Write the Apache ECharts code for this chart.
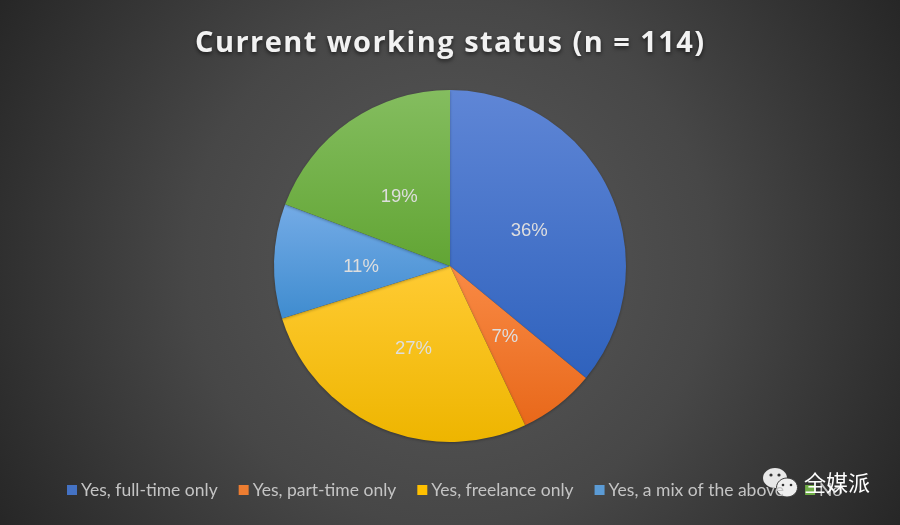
<!DOCTYPE html>
<html><head><meta charset="utf-8">
<style>html,body{margin:0;padding:0;background:#333}#c{width:900px;height:525px}</style>
<script src="https://cdn.jsdelivr.net/npm/echarts@6/dist/echarts.min.js"></script>
</head><body><div id="c"></div>
<script>
const titleText = 'Current working status (n = 114)';
const categories = ['Yes, full-time only','Yes, part-time only','Yes, freelance only','Yes, a mix of the above','No'];
const counts = [41,8,31,12,22];
const topColors = ['#5f86d6','#f98a45','#ffcb33','#74abe6','#84bd5f'];
const bottomColors = ['#2f62bd','#e8681a','#eeb500','#3f8ccf','#62a534'];
const legendColors = ['#4472c4','#ed7d31','#ffc000','#5b9bd5','#70ad47'];
const watermark = '全媒派';
// spaced-out title lettering, as in the reference
const nativeFillText = CanvasRenderingContext2D.prototype.fillText;
CanvasRenderingContext2D.prototype.fillText = function(t,x,y,m){
  this.letterSpacing = t===titleText ? '1.45px' : '0px';
  return m===undefined ? nativeFillText.call(this,t,x,y) : nativeFillText.call(this,t,x,y,m);
};
const chart = echarts.init(document.getElementById('c'),null,{renderer:'canvas'});
const grad=(a,b)=>new echarts.graphic.LinearGradient(0,0,0,1,[{offset:0,color:a},{offset:1,color:b}]);
const nudge=[[-3,4],[-1,-1],[0,0],[2,3],[1,6]];
chart.setOption({
  animation:false,
  backgroundColor:new echarts.graphic.RadialGradient(0.5,0.5,1.0,[{offset:0,color:'#5a5a5a'},{offset:0.5,color:'#474747'},{offset:1,color:'#262626'}]),
  title:{text:titleText,left:190,top:24,textStyle:{color:'#f2f2f2',fontFamily:'Open Sans',fontWeight:'bold',fontSize:29,textShadowColor:'rgba(0,0,0,0.6)',textShadowBlur:4,textShadowOffsetY:2}},
  legend:{bottom:21,left:62,itemWidth:10,itemHeight:10,itemGap:21,icon:'rect',
    textStyle:{color:'#c4c4c4',fontFamily:'Lato',fontSize:17.5,padding:[0,0,0,-1]},
    data:categories.map((n,i)=>({name:n,itemStyle:{color:legendColors[i]}}))},
  series:[{type:'pie',radius:176,center:[450,266],startAngle:90,clockwise:true,
    avoidLabelOverlap:false,percentPrecision:0,
    label:{show:true,position:'inside',formatter:'{d}%',color:'#dedede',fontFamily:'Liberation Sans',fontSize:18.5},
    labelLine:{show:false},
    emphasis:{disabled:true},
    itemStyle:{shadowColor:'rgba(0,0,0,0.3)',shadowBlur:3,shadowOffsetY:1},
    data:categories.map((n,i)=>({name:n,value:counts[i],itemStyle:{color:grad(topColors[i],bottomColors[i])},label:{offset:nudge[i]}}))}],
  graphic:[
    {type:'group',left:763,top:468,z:100,children:[
      {type:'ellipse',shape:{cx:12,cy:10,rx:12,ry:10},style:{fill:'#e8e8e8'}},
      {type:'ellipse',shape:{cx:24,cy:19.5,rx:10.5,ry:9.5},style:{fill:'#efefef',stroke:'#3a3a3a',lineWidth:1}},
      {type:'circle',shape:{cx:8,cy:7,r:1.6},style:{fill:'#333'}},
      {type:'circle',shape:{cx:16,cy:7,r:1.6},style:{fill:'#333'}},
      {type:'circle',shape:{cx:20,cy:17,r:1.3},style:{fill:'#333'}},
      {type:'circle',shape:{cx:28,cy:17,r:1.3},style:{fill:'#333'}}
    ]},
    {type:'text',left:804,top:472,z:100,style:{text:watermark,fill:'#fff',font:'22px "Noto Sans CJK SC"'}}
  ]
});
</script></body></html>
